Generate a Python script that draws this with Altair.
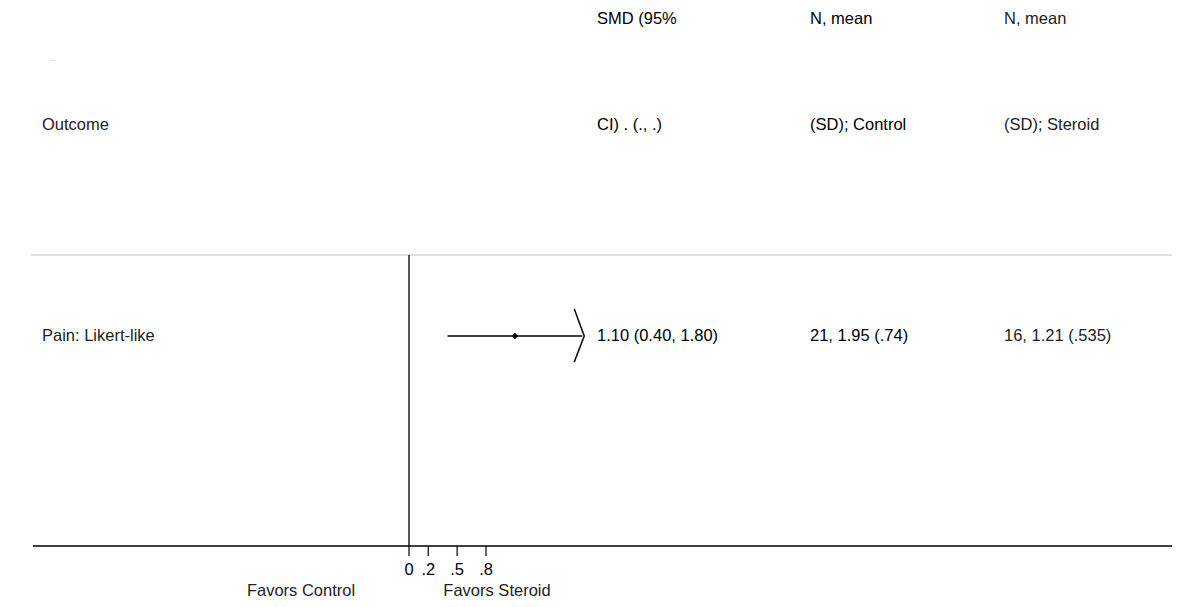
import altair as alt
import pandas as pd

# ---- data ----
outcomes = ["Pain: Likert-like"]
smd = [1.10]
lci = [0.40]
uci = [1.80]
smd_text = ["1.10 (0.40, 1.80)"]
control_text = ["21, 1.95 (.74)"]
steroid_text = ["16, 1.21 (.535)"]

header_line1 = ["SMD (95%", "N, mean", "N, mean"]
header_line2 = ["CI)  . (., .)", "(SD); Control", "(SD); Steroid"]
first_col_header = "Outcome"

tick_values = [0, 0.2, 0.5, 0.8]
tick_labels = ["0", ".2", ".5", ".8"]
favors_left = "Favors Control"
favors_right = "Favors Steroid"

# ---- layout ----
W, H = 1164, 591
ZERO_PX = 401.0
PX_PER_UNIT = 96.25
xdom = [-ZERO_PX / PX_PER_UNIT, (W - ZERO_PX) / PX_PER_UNIT]
xs = alt.Scale(domain=xdom, nice=False, zero=False)
FONT = "Liberation Sans"
FS = 16.5

ROW_Y = 328
TOP_LINE_Y = 247
AXIS_Y = 538
COLS = [589, 802, 996]

df = pd.DataFrame({"outcome": outcomes, "smd": smd, "lci": lci, "uci": uci,
                   "smd_text": smd_text, "control": control_text, "steroid": steroid_text})
ticks = pd.DataFrame({"v": tick_values, "lab": tick_labels})

base = alt.Chart(df)

top_line = alt.Chart(pd.DataFrame({"a": [0]})).mark_rule(color="#c4c4c4", strokeWidth=1.2).encode(
    x=alt.value(23), x2=alt.value(W), y=alt.value(TOP_LINE_Y))
axis_line = alt.Chart(pd.DataFrame({"a": [0]})).mark_rule(color="black", strokeWidth=1.3).encode(
    x=alt.value(25), x2=alt.value(W), y=alt.value(AXIS_Y))
zero_line = alt.Chart(pd.DataFrame({"v": [0]})).mark_rule(color="black", strokeWidth=1.3).encode(
    x=alt.X("v:Q", scale=xs, axis=None), y=alt.value(TOP_LINE_Y), y2=alt.value(AXIS_Y))
tick_marks = alt.Chart(ticks).mark_rule(color="black", strokeWidth=1.2).encode(
    x=alt.X("v:Q", scale=xs, axis=None), y=alt.value(AXIS_Y), y2=alt.value(AXIS_Y + 10))
tick_text = alt.Chart(ticks).mark_text(font=FONT, fontSize=FS, baseline="middle", align="center", color="black").encode(
    x=alt.X("v:Q", scale=xs, axis=None), y=alt.value(AXIS_Y + 24), text="lab:N")
fav = alt.Chart(pd.DataFrame({"t": [favors_left, favors_right], "px": [293, 489]})).mark_text(
    font=FONT, fontSize=FS, baseline="bottom", align="center", color="#222").encode(
    x=alt.X("px:Q", scale=None), y=alt.value(H), text="t:N")

ci = base.mark_rule(color="black", strokeWidth=1.5).encode(
    x=alt.X("lci:Q", scale=xs, axis=None), x2="uci:Q", y=alt.value(ROW_Y))
arrow_up = base.mark_rule(color="black", strokeWidth=1.5, xOffset=-8, x2Offset=2).encode(
    x=alt.X("uci:Q", scale=xs, axis=None), x2="uci:Q", y=alt.value(ROW_Y - 27), y2=alt.value(ROW_Y))
arrow_dn = base.mark_rule(color="black", strokeWidth=1.5, xOffset=-8, x2Offset=2).encode(
    x=alt.X("uci:Q", scale=xs, axis=None), x2="uci:Q", y=alt.value(ROW_Y + 26), y2=alt.value(ROW_Y))
pt = base.mark_point(shape="diamond", filled=True, color="black", size=40, opacity=1).encode(
    x=alt.X("smd:Q", scale=xs, axis=None), y=alt.value(ROW_Y))

def txt(field, xpx, color="black"):
    return base.mark_text(font=FONT, fontSize=FS, align="left", baseline="middle", color=color).encode(
        x=alt.value(xpx), y=alt.value(ROW_Y), text=f"{field}:N")

row_texts = [txt("outcome", 34, "#222"), txt("smd_text", COLS[0]), txt("control", COLS[1]), txt("steroid", COLS[2], "#222")]

hdr = pd.DataFrame({"l1": header_line1, "l2": header_line2, "px": COLS,
                    "c": ["black", "black", "#222"]})
h1 = alt.Chart(hdr).mark_text(font=FONT, fontSize=FS, align="left", baseline="middle").encode(
    x=alt.X("px:Q", scale=None), y=alt.value(11), text="l1:N", color=alt.Color("c:N", scale=None))
h2 = alt.Chart(hdr).mark_text(font=FONT, fontSize=FS, align="left", baseline="middle").encode(
    x=alt.X("px:Q", scale=None), y=alt.value(117), text="l2:N", color=alt.Color("c:N", scale=None))
h0 = alt.Chart(pd.DataFrame({"t": [first_col_header]})).mark_text(
    font=FONT, fontSize=FS, align="left", baseline="middle", color="#222").encode(
    x=alt.value(34), y=alt.value(117), text="t:N")
dot = alt.Chart(pd.DataFrame({"t": ["."]})).mark_text(
    font=FONT, fontSize=8, align="center", baseline="middle", color="#666").encode(
    x=alt.value(45), y=alt.value(51), text="t:N")

chart = alt.layer(top_line, axis_line, zero_line, tick_marks, tick_text, fav, ci, arrow_up, arrow_dn, pt,
                  *row_texts, h1, h2, h0, dot).properties(
    width=W, height=H, padding=0, background="white",
    autosize=alt.AutoSizeParams(type="none")
).configure_view(strokeWidth=0, stroke="transparent")

chart.save("out.html", embed_options={"renderer": "svg", "actions": False})
